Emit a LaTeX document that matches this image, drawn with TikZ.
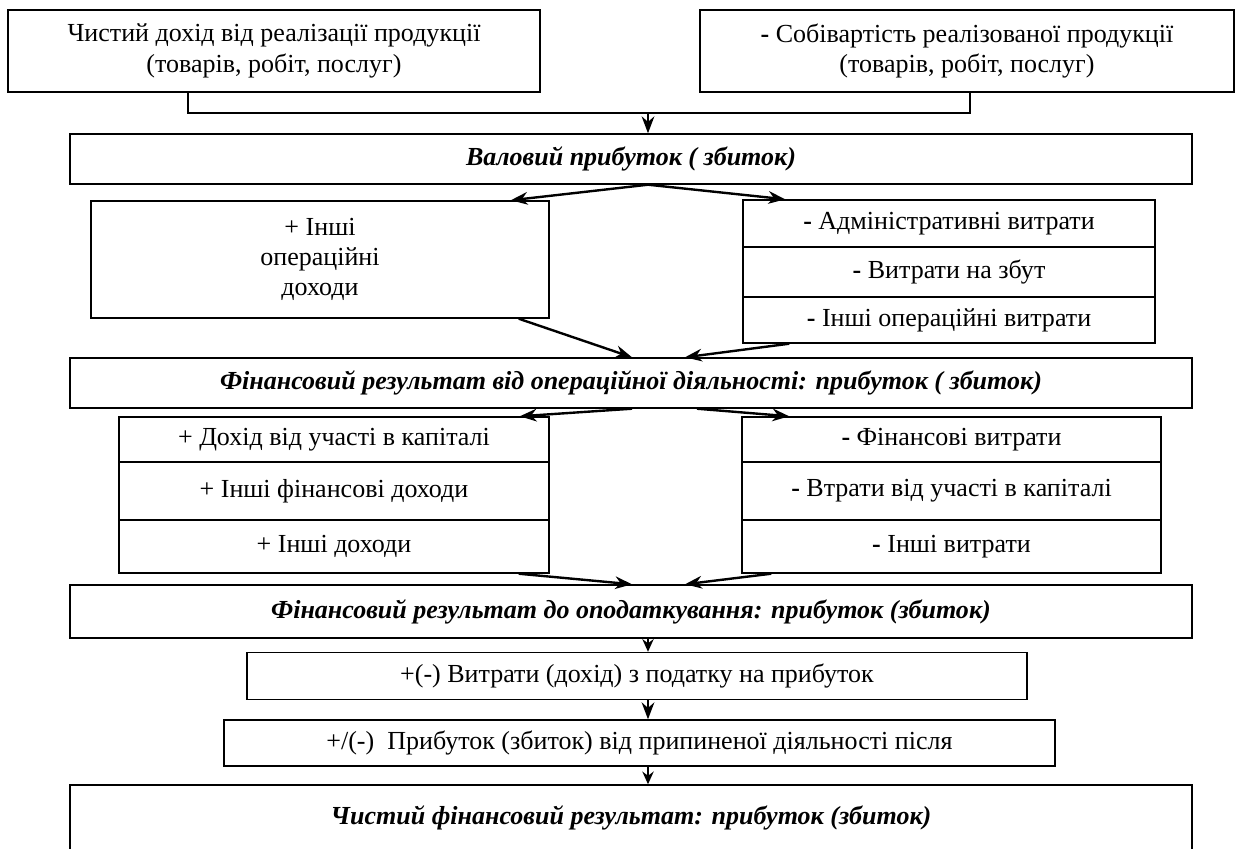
\documentclass[tikz,border=0pt]{standalone}
\usepackage{fontspec}
\setmainfont{Liberation Serif}
\usetikzlibrary{arrows.meta}
\tikzset{
  box/.style={draw, line width=1pt, align=center, inner sep=2pt, font=\fontsize{18.5}{21.5}\selectfont},
  resbox/.style={box, minimum width=28.05cm, minimum height=1.25cm, font=\fontsize{18.5}{21.5}\selectfont\bfseries\itshape},
  arr/.style={-{Stealth[length=12pt,width=9pt]}, line width=1.7pt},
  shortarr/.style={-{Stealth[length=9pt,width=8pt]}, line width=1.5pt},
}
\begin{document}
\begin{tikzpicture}[x=0.025cm, y=-0.025cm]
  \useasboundingbox (0,0) rectangle (1240,848);
  \clip (0,0) rectangle (1240,848);
  % sales and cost of sales
  \node[box, minimum width=13.3cm, minimum height=2.05cm] (inc) at (274,51) {Чистий дохід від реалізації продукції\\(товарів, робіт, послуг)};
  \node[box, minimum width=13.35cm, minimum height=2.05cm] (cost) at (967,51) {\textbf{-} Собівартість реалізованої продукції\\(товарів, робіт, послуг)};
  \node[resbox] (gross) at (631,159) {Валовий прибуток ( збиток)};
  \coordinate (j) at (648,113);
  \draw[line width=1.7pt] ([xshift=-2.15cm]inc.south) |- (j) -| ([xshift=0.075cm]cost.south);
  \draw[arr] (j) -- (gross.north -| j);
  % operating items
  \node[box, minimum width=11.45cm, minimum height=2.925cm] (othinc) at (320,259.5) {+ Інші\\операційні\\доходи};
  \node[box, minimum width=10.3cm, minimum height=1.175cm] (admin) at (949,223.5) {\textbf{-} Адміністративні витрати};
  \node[box, minimum width=10.3cm, minimum height=1.25cm] (sales) at (949,272) {\textbf{-} Витрати на збут};
  \node[box, minimum width=10.3cm, minimum height=1.15cm] (othexp) at (949,320) {\textbf{-} Інші операційні витрати};
  \draw[arr] ([xshift=0.425cm]gross.south) -- ([xshift=-0.975cm]othinc.north east);
  \draw[arr] ([xshift=0.425cm]gross.south) -- ([xshift=1.075cm]admin.north west);
  \node[resbox] (oper) at (631,383) {Фінансовий результат від операційної діяльності: прибуток ( збиток)};
  \draw[arr] ([xshift=-0.775cm]othinc.south east) -- ([xshift=0.025cm]oper.north);
  \draw[arr] ([xshift=1.175cm]othexp.south west) -- ([xshift=1.35cm]oper.north);
  % financial items
  \node[box, minimum width=10.75cm, minimum height=1.125cm] (capinc) at (334,439.5) {+ Дохід від участі в капіталі};
  \node[box, minimum width=10.75cm, minimum height=1.45cm] (fininc) at (334,491) {+ Інші фінансові доходи};
  \node[box, minimum width=10.75cm, minimum height=1.325cm] (othrev) at (334,546.5) {+ Інші доходи};
  \node[box, minimum width=10.475cm, minimum height=1.125cm] (finexp) at (951.5,439.5) {\textbf{-} Фінансові витрати};
  \node[box, minimum width=10.475cm, minimum height=1.45cm] (caploss) at (951.5,491) {\textbf{-} Втрати від участі в капіталі};
  \node[box, minimum width=10.475cm, minimum height=1.325cm] (othcost) at (951.5,546.5) {\textbf{-} Інші витрати};
  \draw[arr] ([xshift=0.025cm]oper.south) -- ([xshift=-0.75cm]capinc.north east);
  \draw[arr] ([xshift=1.65cm]oper.south) -- ([xshift=1.2cm]finexp.north west);
  \node[resbox, minimum height=1.325cm] (pretax) at (631,611.5) {Фінансовий результат до оподаткування: прибуток (збиток)};
  \draw[arr] ([xshift=-0.775cm]othrev.south east) -- ([xshift=0.025cm]pretax.north);
  \draw[arr] ([xshift=0.75cm]othcost.south west) -- ([xshift=1.35cm]pretax.north);
  % tax and net result
  \coordinate (fx) at (648,0);
  \node[box, minimum width=19.5cm, minimum height=1.175cm] (tax) at (637,676) {+(-) Витрати (дохід) з податку на прибуток};
  \node[box, minimum width=20.775cm, minimum height=1.15cm] (disc) at (639.5,743) {+/(-)\ \ Прибуток (збиток) від припиненої діяльності після};
  \node[resbox, minimum height=2.25cm] (net) at (631,830) {Чистий фінансовий результат: прибуток (збиток)\\\mbox{}};
  \draw[shortarr] (pretax.south -| fx) -- (tax.north -| fx);
  \draw[arr] (tax.south -| fx) -- (disc.north -| fx);
  \draw[shortarr] (disc.south -| fx) -- (net.north -| fx);
\end{tikzpicture}
\end{document}
